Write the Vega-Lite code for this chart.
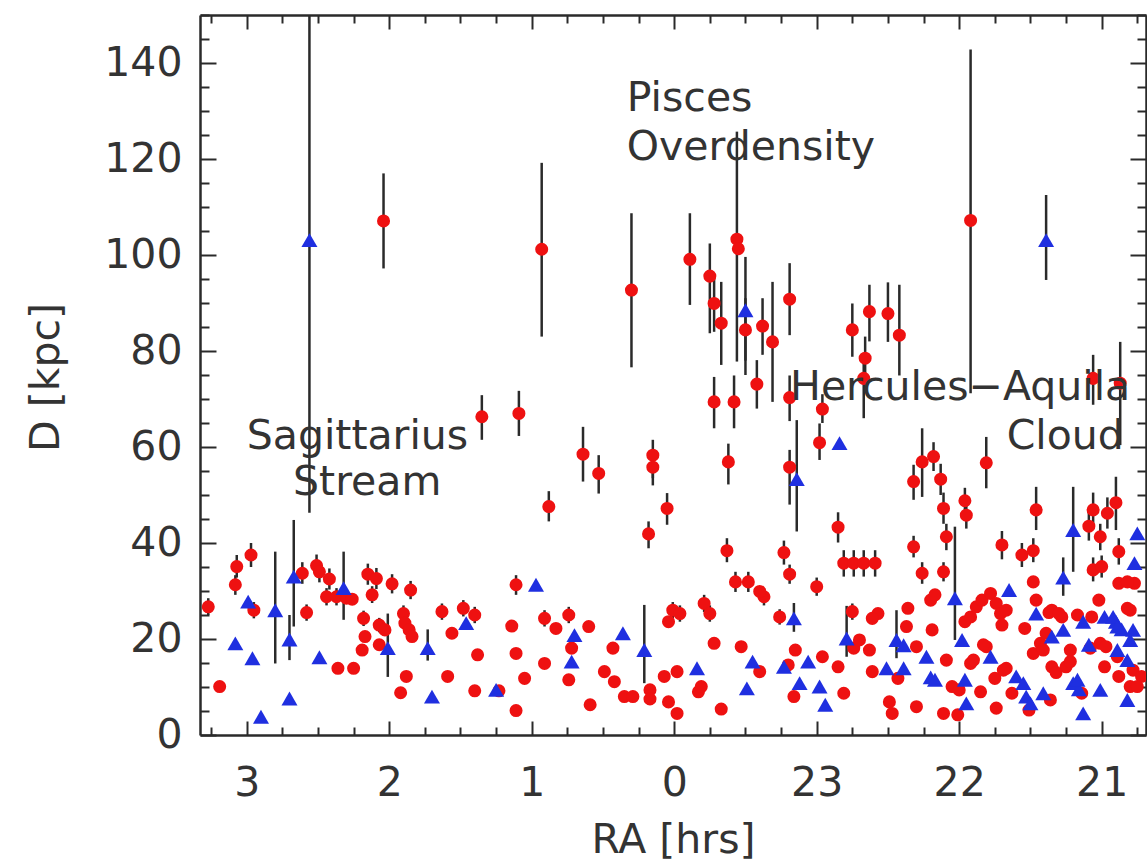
{
"$schema": "https://vega.github.io/schema/vega-lite/v6.json",
"width": 946, "height": 720,
"autosize": "none",
"padding": {"left": 200, "top": 15, "right": 1, "bottom": 131},
"background": "white",
"config": {"view": {"stroke": null},
 "axis": {"grid": false, "domainColor": "#2a2a2a", "domainWidth": 2.5, "tickColor": "#2a2a2a", "tickWidth": 2,
  "labelFont": "DejaVu Sans", "labelFontSize": 41, "labelColor": "#333", "titleFont": "DejaVu Sans", "titleFontSize": 41,
  "titleFontWeight": "normal", "titleColor": "#333", "labelOverlap": false, "labelFlush": false}},
"datasets": {
"stars": [
{"ra":2.56,"d":103.1,"lo":46.3,"hi":160,"type":"RRc"},
{"ra":2.04,"d":107.1,"lo":97.2,"hi":117.0,"type":"RRab"},
{"ra":0.93,"d":101.2,"lo":83.0,"hi":119.2,"type":"RRab"},
{"ra":0.30,"d":92.7,"lo":76.6,"hi":108.7,"type":"RRab"},
{"ra":-0.11,"d":99.1,"lo":89.6,"hi":108.7,"type":"RRab"},
{"ra":-0.25,"d":95.6,"lo":83.7,"hi":102.4,"type":"RRab"},
{"ra":-0.28,"d":89.9,"lo":84.0,"hi":96.0,"type":"RRab"},
{"ra":-0.44,"d":103.3,"lo":77.8,"hi":125.7,"type":"RRab"},
{"ra":-0.45,"d":101.3,"type":"RRab"},
{"ra":-0.50,"d":88.5,"lo":75.0,"hi":99.6,"type":"RRc"},
{"ra":-0.33,"d":85.8,"lo":77.1,"hi":94.4,"type":"RRab"},
{"ra":-0.50,"d":84.4,"lo":78.0,"hi":91.0,"type":"RRab"},
{"ra":-0.62,"d":85.2,"lo":79.2,"hi":91.0,"type":"RRab"},
{"ra":-0.69,"d":81.9,"lo":69.4,"hi":94.4,"type":"RRab"},
{"ra":-0.81,"d":90.8,"lo":83.3,"hi":98.3,"type":"RRab"},
{"ra":-0.58,"d":73.1,"lo":68.0,"hi":78.1,"type":"RRab"},
{"ra":-0.28,"d":69.4,"lo":63.9,"hi":74.6,"type":"RRab"},
{"ra":-0.42,"d":69.4,"lo":63.9,"hi":74.9,"type":"RRab"},
{"ra":-0.81,"d":70.3,"lo":65.4,"hi":74.9,"type":"RRab"},
{"ra":-1.04,"d":67.9,"lo":65.0,"hi":71.0,"type":"RRab"},
{"ra":-1.02,"d":60.9,"lo":57.3,"hi":64.9,"type":"RRab"},
{"ra":-1.16,"d":60.8,"type":"RRc"},
{"ra":-0.81,"d":55.8,"lo":48.0,"hi":59.4,"type":"RRab"},
{"ra":-0.86,"d":53.3,"lo":42.4,"hi":65.6,"type":"RRc"},
{"ra":0.64,"d":58.5,"lo":52.8,"hi":64.2,"type":"RRab"},
{"ra":0.53,"d":54.5,"lo":50.3,"hi":58.3,"type":"RRab"},
{"ra":0.15,"d":58.3,"lo":53.5,"hi":61.5,"type":"RRab"},
{"ra":0.15,"d":55.8,"lo":52.0,"hi":59.0,"type":"RRab"},
{"ra":-0.38,"d":56.9,"lo":52.2,"hi":60.7,"type":"RRab"},
{"ra":0.05,"d":47.2,"lo":43.8,"hi":50.4,"type":"RRab"},
{"ra":0.88,"d":47.6,"lo":44.5,"hi":50.8,"type":"RRab"},
{"ra":0.18,"d":41.9,"lo":38.9,"hi":44.5,"type":"RRab"},
{"ra":-0.37,"d":38.4,"lo":36.0,"hi":41.0,"type":"RRab"},
{"ra":-0.77,"d":38.0,"lo":35.5,"hi":40.5,"type":"RRab"},
{"ra":-0.81,"d":33.5,"lo":31.5,"hi":35.5,"type":"RRab"},
{"ra":-1.15,"d":43.3,"lo":40.1,"hi":46.4,"type":"RRab"},
{"ra":-1.19,"d":35.8,"lo":33.0,"hi":38.5,"type":"RRab"},
{"ra":-1.26,"d":35.8,"lo":33.0,"hi":38.5,"type":"RRab"},
{"ra":-1.33,"d":35.8,"lo":33.0,"hi":38.5,"type":"RRab"},
{"ra":-1.41,"d":35.8,"lo":33.0,"hi":38.5,"type":"RRab"},
{"ra":-1.68,"d":39.2,"lo":37.0,"hi":41.5,"type":"RRab"},
{"ra":-1.74,"d":56.9,"lo":49.6,"hi":63.9,"type":"RRab"},
{"ra":-1.82,"d":58.0,"lo":55.0,"hi":61.0,"type":"RRab"},
{"ra":-1.68,"d":52.8,"lo":49.0,"hi":56.3,"type":"RRab"},
{"ra":-1.87,"d":53.3,"lo":50.0,"hi":56.5,"type":"RRab"},
{"ra":-1.89,"d":47.2,"lo":44.0,"hi":50.5,"type":"RRab"},
{"ra":-1.91,"d":41.3,"lo":38.5,"hi":44.0,"type":"RRab"},
{"ra":-1.74,"d":33.7,"lo":31.5,"hi":36.0,"type":"RRab"},
{"ra":-1.89,"d":34.0,"lo":32.0,"hi":36.0,"type":"RRab"},
{"ra":-1.25,"d":84.4,"lo":78.8,"hi":89.9,"type":"RRab"},
{"ra":-1.37,"d":88.2,"lo":82.0,"hi":93.8,"type":"RRab"},
{"ra":-1.50,"d":87.8,"lo":81.9,"hi":94.3,"type":"RRab"},
{"ra":-1.58,"d":83.3,"lo":74.9,"hi":93.8,"type":"RRab"},
{"ra":-1.34,"d":78.5,"lo":74.0,"hi":83.0,"type":"RRab"},
{"ra":-1.33,"d":74.3,"lo":66.0,"hi":79.0,"type":"RRab"},
{"ra":-2.08,"d":107.2,"lo":71.2,"hi":142.8,"type":"RRab"},
{"ra":-2.61,"d":103.1,"lo":94.8,"hi":112.5,"type":"RRc"},
{"ra":-2.94,"d":74.3,"lo":68.8,"hi":79.2,"type":"RRab"},
{"ra":-3.13,"d":73.3,"lo":60.4,"hi":81.9,"type":"RRab"},
{"ra":-2.04,"d":48.8,"lo":46.0,"hi":51.5,"type":"RRab"},
{"ra":-2.05,"d":45.8,"lo":43.0,"hi":48.5,"type":"RRab"},
{"ra":-2.19,"d":56.7,"lo":51.4,"hi":62.1,"type":"RRab"},
{"ra":-2.30,"d":39.6,"lo":36.6,"hi":42.5,"type":"RRab"},
{"ra":-2.44,"d":37.5,"lo":35.0,"hi":40.0,"type":"RRab"},
{"ra":-2.52,"d":38.4,"lo":36.0,"hi":41.0,"type":"RRab"},
{"ra":-2.54,"d":46.9,"lo":42.7,"hi":51.7,"type":"RRab"},
{"ra":-2.80,"d":42.7,"lo":34.0,"hi":51.7,"type":"RRc"},
{"ra":-2.94,"d":46.9,"lo":43.5,"hi":50.5,"type":"RRab"},
{"ra":-2.91,"d":43.5,"lo":40.5,"hi":46.5,"type":"RRab"},
{"ra":-2.99,"d":41.3,"lo":38.5,"hi":44.0,"type":"RRab"},
{"ra":-3.04,"d":46.2,"lo":43.0,"hi":49.5,"type":"RRab"},
{"ra":-3.10,"d":48.4,"lo":42.7,"hi":53.8,"type":"RRab"},
{"ra":-3.12,"d":38.2,"lo":35.5,"hi":41.0,"type":"RRab"},
{"ra":-3.25,"d":42.0,"type":"RRc"},
{"ra":-3.23,"d":35.8,"type":"RRc"},
{"ra":-2.73,"d":32.8,"lo":29.0,"hi":37.0,"type":"RRc"},
{"ra":-2.94,"d":34.4,"lo":32.0,"hi":37.0,"type":"RRab"},
{"ra":-3.00,"d":35.1,"lo":32.8,"hi":37.4,"type":"RRab"},
{"ra":1.35,"d":66.3,"lo":61.5,"hi":70.8,"type":"RRab"},
{"ra":1.09,"d":67.0,"lo":62.3,"hi":71.7,"type":"RRab"},
{"ra":3.07,"d":35.1,"lo":32.8,"hi":37.5,"type":"RRab"},
{"ra":2.97,"d":37.5,"lo":35.0,"hi":40.0,"type":"RRab"},
{"ra":2.67,"d":33.0,"lo":22.6,"hi":44.8,"type":"RRc"},
{"ra":2.61,"d":33.7,"lo":31.5,"hi":36.0,"type":"RRab"},
{"ra":2.51,"d":35.3,"lo":33.0,"hi":37.6,"type":"RRab"},
{"ra":2.49,"d":34.0,"lo":31.8,"hi":36.2,"type":"RRab"},
{"ra":2.42,"d":32.5,"lo":30.3,"hi":34.7,"type":"RRab"},
{"ra":2.15,"d":33.5,"lo":31.3,"hi":35.7,"type":"RRab"},
{"ra":2.09,"d":32.6,"lo":30.4,"hi":34.8,"type":"RRab"},
{"ra":1.98,"d":31.5,"lo":29.5,"hi":33.5,"type":"RRab"},
{"ra":3.08,"d":31.3,"lo":29.2,"hi":33.3,"type":"RRab"},
{"ra":3.27,"d":26.7,"lo":25.0,"hi":28.5,"type":"RRab"},
{"ra":2.99,"d":27.8,"type":"RRc"},
{"ra":2.95,"d":26.0,"lo":24.3,"hi":27.7,"type":"RRab"},
{"ra":3.08,"d":19.1,"type":"RRc"},
{"ra":2.96,"d":16.0,"type":"RRc"},
{"ra":3.19,"d":10.1,"type":"RRab"},
{"ra":2.80,"d":26.0,"lo":14.9,"hi":38.2,"type":"RRc"},
{"ra":2.70,"d":19.9,"lo":15.6,"hi":25.0,"type":"RRc"},
{"ra":2.70,"d":7.6,"type":"RRc"},
{"ra":2.90,"d":3.8,"type":"RRc"},
{"ra":2.58,"d":25.5,"lo":23.8,"hi":27.2,"type":"RRab"},
{"ra":2.44,"d":28.8,"lo":27.0,"hi":30.6,"type":"RRab"},
{"ra":2.37,"d":28.8,"lo":27.0,"hi":30.6,"type":"RRab"},
{"ra":2.30,"d":28.5,"type":"RRab"},
{"ra":2.26,"d":28.3,"type":"RRab"},
{"ra":2.32,"d":30.6,"lo":24.0,"hi":38.2,"type":"RRc"},
{"ra":2.36,"d":13.9,"type":"RRab"},
{"ra":2.25,"d":13.9,"type":"RRab"},
{"ra":2.49,"d":16.2,"type":"RRc"},
{"ra":2.12,"d":29.2,"lo":27.5,"hi":31.0,"type":"RRab"},
{"ra":1.85,"d":30.2,"lo":28.3,"hi":32.1,"type":"RRab"},
{"ra":2.18,"d":24.3,"lo":22.7,"hi":25.9,"type":"RRab"},
{"ra":2.17,"d":20.5,"type":"RRab"},
{"ra":2.19,"d":17.7,"type":"RRab"},
{"ra":2.07,"d":22.9,"lo":21.4,"hi":24.4,"type":"RRab"},
{"ra":2.03,"d":21.9,"type":"RRab"},
{"ra":2.07,"d":18.8,"type":"RRab"},
{"ra":2.01,"d":18.1,"lo":12.1,"hi":25.3,"type":"RRc"},
{"ra":1.90,"d":25.3,"lo":23.6,"hi":27.0,"type":"RRab"},
{"ra":1.89,"d":23.3,"type":"RRab"},
{"ra":1.86,"d":21.9,"type":"RRab"},
{"ra":1.84,"d":20.5,"type":"RRab"},
{"ra":1.88,"d":12.2,"type":"RRab"},
{"ra":1.92,"d":8.8,"type":"RRab"},
{"ra":1.73,"d":18.1,"lo":15.5,"hi":22.0,"type":"RRc"},
{"ra":1.70,"d":8.0,"type":"RRc"},
{"ra":1.63,"d":25.7,"lo":24.0,"hi":27.4,"type":"RRab"},
{"ra":1.56,"d":21.2,"type":"RRab"},
{"ra":1.59,"d":12.2,"type":"RRab"},
{"ra":1.48,"d":26.4,"lo":24.7,"hi":28.1,"type":"RRab"},
{"ra":1.40,"d":25.0,"lo":23.3,"hi":26.7,"type":"RRab"},
{"ra":1.46,"d":23.3,"type":"RRc"},
{"ra":1.38,"d":16.7,"type":"RRab"},
{"ra":1.40,"d":9.2,"type":"RRab"},
{"ra":1.25,"d":9.4,"type":"RRc"},
{"ra":1.23,"d":9.2,"type":"RRab"},
{"ra":1.11,"d":31.3,"lo":29.2,"hi":33.3,"type":"RRab"},
{"ra":0.97,"d":31.3,"type":"RRc"},
{"ra":1.14,"d":22.7,"type":"RRab"},
{"ra":1.11,"d":17.0,"type":"RRab"},
{"ra":1.05,"d":11.8,"type":"RRab"},
{"ra":1.11,"d":5.1,"type":"RRab"},
{"ra":0.91,"d":24.3,"lo":22.6,"hi":26.0,"type":"RRab"},
{"ra":0.91,"d":14.9,"type":"RRab"},
{"ra":0.74,"d":25.0,"lo":23.3,"hi":26.7,"type":"RRab"},
{"ra":0.83,"d":22.2,"type":"RRab"},
{"ra":0.70,"d":20.8,"type":"RRc"},
{"ra":0.72,"d":18.1,"type":"RRab"},
{"ra":0.72,"d":15.3,"type":"RRc"},
{"ra":0.74,"d":11.5,"type":"RRab"},
{"ra":0.60,"d":22.6,"type":"RRab"},
{"ra":0.59,"d":6.3,"type":"RRab"},
{"ra":0.36,"d":21.2,"type":"RRc"},
{"ra":0.43,"d":18.1,"type":"RRab"},
{"ra":0.49,"d":13.2,"type":"RRab"},
{"ra":0.42,"d":11.1,"type":"RRab"},
{"ra":0.35,"d":8.0,"type":"RRab"},
{"ra":0.29,"d":8.0,"type":"RRab"},
{"ra":0.21,"d":17.7,"lo":10.8,"hi":27.1,"type":"RRc"},
{"ra":0.17,"d":9.4,"type":"RRab"},
{"ra":0.17,"d":7.5,"type":"RRab"},
{"ra":0.04,"d":23.6,"type":"RRab"},
{"ra":0.01,"d":26.0,"lo":24.3,"hi":27.7,"type":"RRab"},
{"ra":-0.04,"d":25.3,"lo":23.6,"hi":27.0,"type":"RRab"},
{"ra":0.07,"d":12.2,"type":"RRab"},
{"ra":-0.02,"d":13.2,"type":"RRab"},
{"ra":0.04,"d":6.9,"type":"RRab"},
{"ra":-0.02,"d":4.5,"type":"RRab"},
{"ra":-0.16,"d":13.9,"type":"RRc"},
{"ra":-0.17,"d":9.0,"type":"RRab"},
{"ra":-0.19,"d":10.1,"type":"RRab"},
{"ra":-0.21,"d":27.4,"lo":25.6,"hi":29.2,"type":"RRab"},
{"ra":-0.25,"d":25.3,"lo":23.6,"hi":27.0,"type":"RRab"},
{"ra":-0.28,"d":19.1,"type":"RRab"},
{"ra":-0.33,"d":5.4,"type":"RRab"},
{"ra":-0.43,"d":31.9,"lo":29.8,"hi":34.0,"type":"RRab"},
{"ra":-0.52,"d":31.9,"lo":29.8,"hi":34.0,"type":"RRab"},
{"ra":-0.47,"d":18.4,"type":"RRab"},
{"ra":-0.63,"d":28.8,"lo":27.0,"hi":30.6,"type":"RRab"},
{"ra":-0.60,"d":29.9,"type":"RRab"},
{"ra":-0.55,"d":15.3,"type":"RRc"},
{"ra":-0.60,"d":13.2,"type":"RRab"},
{"ra":-0.51,"d":9.7,"type":"RRc"},
{"ra":-0.74,"d":24.6,"lo":23.0,"hi":26.2,"type":"RRab"},
{"ra":-0.84,"d":24.3,"lo":21.5,"hi":27.5,"type":"RRc"},
{"ra":-0.85,"d":17.7,"type":"RRab"},
{"ra":-0.80,"d":14.6,"type":"RRab"},
{"ra":-0.77,"d":14.2,"type":"RRc"},
{"ra":-0.88,"d":10.8,"type":"RRc"},
{"ra":-0.94,"d":15.3,"type":"RRc"},
{"ra":-0.84,"d":8.0,"type":"RRab"},
{"ra":-1.00,"d":30.9,"lo":29.0,"hi":32.8,"type":"RRab"},
{"ra":-1.04,"d":16.3,"type":"RRab"},
{"ra":-1.02,"d":10.1,"type":"RRc"},
{"ra":-1.06,"d":6.3,"type":"RRc"},
{"ra":-1.15,"d":14.2,"type":"RRab"},
{"ra":-1.19,"d":8.7,"type":"RRab"},
{"ra":-1.25,"d":25.7,"lo":24.0,"hi":27.4,"type":"RRab"},
{"ra":-1.21,"d":20.1,"lo":16.3,"hi":26.9,"type":"RRc"},
{"ra":-1.26,"d":18.1,"type":"RRab"},
{"ra":-1.30,"d":19.8,"type":"RRab"},
{"ra":-1.37,"d":17.7,"type":"RRab"},
{"ra":-1.43,"d":25.3,"type":"RRab"},
{"ra":-1.39,"d":24.3,"type":"RRab"},
{"ra":-1.39,"d":13.2,"type":"RRab"},
{"ra":-1.51,"d":6.9,"type":"RRab"},
{"ra":-1.53,"d":4.5,"type":"RRab"},
{"ra":-1.49,"d":13.9,"type":"RRc"},
{"ra":-1.56,"d":19.8,"lo":16.0,"hi":26.0,"type":"RRc"},
{"ra":-1.61,"d":18.7,"type":"RRc"},
{"ra":-1.64,"d":26.4,"type":"RRab"},
{"ra":-1.63,"d":22.6,"type":"RRab"},
{"ra":-1.61,"d":13.9,"type":"RRc"},
{"ra":-1.57,"d":11.8,"type":"RRab"},
{"ra":-1.70,"d":18.4,"type":"RRab"},
{"ra":-1.70,"d":5.9,"type":"RRab"},
{"ra":-1.77,"d":16.3,"type":"RRc"},
{"ra":-1.80,"d":12.0,"type":"RRc"},
{"ra":-1.83,"d":11.5,"type":"RRc"},
{"ra":-1.81,"d":21.9,"type":"RRab"},
{"ra":-1.80,"d":28.1,"type":"RRab"},
{"ra":-1.83,"d":29.2,"type":"RRab"},
{"ra":-1.89,"d":4.5,"type":"RRab"},
{"ra":-1.97,"d":28.5,"lo":19.8,"hi":43.4,"type":"RRc"},
{"ra":-1.91,"d":15.6,"type":"RRab"},
{"ra":-1.95,"d":10.1,"type":"RRab"},
{"ra":-1.99,"d":4.2,"type":"RRab"},
{"ra":-2.02,"d":19.8,"type":"RRc"},
{"ra":-2.04,"d":11.5,"type":"RRc"},
{"ra":-2.05,"d":6.6,"type":"RRc"},
{"ra":-2.00,"d":9.4,"type":"RRab"},
{"ra":-2.15,"d":9.0,"type":"RRab"},
{"ra":-2.04,"d":23.6,"type":"RRab"},
{"ra":-2.08,"d":24.6,"type":"RRab"},
{"ra":-2.12,"d":26.7,"type":"RRab"},
{"ra":-2.16,"d":28.1,"type":"RRab"},
{"ra":-2.22,"d":29.5,"type":"RRab"},
{"ra":-2.26,"d":27.4,"type":"RRab"},
{"ra":-2.29,"d":25.3,"type":"RRab"},
{"ra":-2.30,"d":22.9,"type":"RRab"},
{"ra":-2.33,"d":26.0,"type":"RRab"},
{"ra":-2.08,"d":14.9,"type":"RRab"},
{"ra":-2.19,"d":18.4,"type":"RRab"},
{"ra":-2.22,"d":16.3,"type":"RRc"},
{"ra":-2.25,"d":11.8,"type":"RRab"},
{"ra":-2.26,"d":5.6,"type":"RRab"},
{"ra":-2.35,"d":30.2,"type":"RRc"},
{"ra":-2.33,"d":13.9,"type":"RRab"},
{"ra":-2.37,"d":8.7,"type":"RRab"},
{"ra":-2.40,"d":12.2,"type":"RRc"},
{"ra":-2.45,"d":10.8,"type":"RRc"},
{"ra":-2.47,"d":8.0,"type":"RRc"},
{"ra":-2.50,"d":6.6,"type":"RRc"},
{"ra":-2.46,"d":22.2,"type":"RRab"},
{"ra":-2.52,"d":31.9,"type":"RRab"},
{"ra":-2.54,"d":25.3,"type":"RRc"},
{"ra":-2.54,"d":28.1,"type":"RRab"},
{"ra":-2.52,"d":17.0,"type":"RRab"},
{"ra":-2.57,"d":19.1,"type":"RRab"},
{"ra":-2.49,"d":5.2,"type":"RRab"},
{"ra":-2.59,"d":8.7,"type":"RRc"},
{"ra":-2.61,"d":21.2,"type":"RRab"},
{"ra":-2.65,"d":14.2,"type":"RRab"},
{"ra":-2.65,"d":20.5,"type":"RRc"},
{"ra":-2.73,"d":21.9,"type":"RRc"},
{"ra":-2.65,"d":26.0,"type":"RRab"},
{"ra":-2.72,"d":24.6,"type":"RRab"},
{"ra":-2.78,"d":17.7,"type":"RRab"},
{"ra":-2.75,"d":14.2,"type":"RRab"},
{"ra":-2.68,"d":13.0,"type":"RRab"},
{"ra":-2.80,"d":10.8,"type":"RRc"},
{"ra":-2.84,"d":9.5,"type":"RRc"},
{"ra":-2.87,"d":4.5,"type":"RRc"},
{"ra":-2.86,"d":8.7,"type":"RRab"},
{"ra":-2.91,"d":18.8,"type":"RRc"},
{"ra":-2.93,"d":24.6,"type":"RRab"},
{"ra":-2.98,"d":28.1,"type":"RRab"},
{"ra":-2.99,"d":19.1,"type":"RRab"},
{"ra":-3.03,"d":18.4,"type":"RRab"},
{"ra":-2.99,"d":9.4,"type":"RRc"},
{"ra":-3.02,"d":14.2,"type":"RRab"},
{"ra":-3.02,"d":24.6,"type":"RRc"},
{"ra":-3.10,"d":23.6,"type":"RRc"},
{"ra":-3.14,"d":22.0,"type":"RRc"},
{"ra":-3.11,"d":17.7,"type":"RRc"},
{"ra":-3.12,"d":31.6,"type":"RRab"},
{"ra":-3.23,"d":31.6,"type":"RRab"},
{"ra":-3.20,"d":26.0,"type":"RRab"},
{"ra":-3.22,"d":21.9,"type":"RRc"},
{"ra":-3.20,"d":19.8,"type":"RRc"},
{"ra":-3.18,"d":15.6,"type":"RRc"},
{"ra":-3.22,"d":13.5,"type":"RRab"},
{"ra":-3.18,"d":7.3,"type":"RRc"},
{"ra":-3.28,"d":12.2,"type":"RRab"},
{"ra":-3.12,"d":12.2,"type":"RRab"},
{"ra":-3.20,"d":10.1,"type":"RRab"},
{"ra":-3.18,"d":31.9,"type":"RRab"},
{"ra":-2.63,"d":25.5,"type":"RRab"},
{"ra":-2.70,"d":25.3,"type":"RRab"},
{"ra":-2.83,"d":25.0,"type":"RRab"},
{"ra":-2.87,"d":23.6,"type":"RRc"},
{"ra":-3.08,"d":24.6,"type":"RRc"},
{"ra":-3.11,"d":22.6,"type":"RRc"},
{"ra":-3.18,"d":26.4,"type":"RRab"},
{"ra":-2.17,"d":18.8,"type":"RRab"},
{"ra":-2.10,"d":15.6,"type":"RRab"},
{"ra":-2.31,"d":13.5,"type":"RRab"},
{"ra":-2.64,"d":7.3,"type":"RRab"},
{"ra":-2.59,"d":17.7,"type":"RRab"},
{"ra":-2.78,"d":15.3,"type":"RRab"},
{"ra":-2.83,"d":11.5,"type":"RRc"},
{"ra":-2.92,"d":18.1,"type":"RRab"},
{"ra":-3.11,"d":16.3,"type":"RRab"},
{"ra":-3.25,"d":10.1,"type":"RRab"}
],
"notes": [
{"ra":0.333,"d":129.9,"label":"Pisces"},
{"ra":0.333,"d":119.8,"label":"Overdensity"},
{"ra":3.0,"d":59.5,"label":"Sagittarius"},
{"ra":2.675,"d":50.0,"label":"Stream"},
{"ra":-0.813,"d":69.7,"label":"Hercules−Aquila"},
{"ra":-2.333,"d":59.5,"label":"Cloud"}
],
"frame": [{"ra":0,"d":0}]
},
"layer": [
{"data": {"name": "stars"}, "transform": [{"filter": "isValid(datum.lo)"}],
 "mark": {"type": "rule", "color": "#2a2a2a", "strokeWidth": 2.5, "clip": true},
 "encoding": {
  "x": {"field": "ra", "type": "quantitative", "scale": {"domain": [-3.311, 3.328], "reverse": true, "nice": false, "zero": false}, "axis": null},
  "y": {"field": "lo", "type": "quantitative", "scale": {"domain": [0, 150], "nice": false, "zero": false}, "axis": null},
  "y2": {"field": "hi"}}},
{"data": {"name": "stars"}, "transform": [{"filter": "datum.type === 'RRab'"}],
 "mark": {"type": "point", "shape": "circle", "filled": true, "color": "#ee1111", "opacity": 1, "size": 170, "clip": true},
 "encoding": {
  "x": {"field": "ra", "type": "quantitative", "scale": {"domain": [-3.311, 3.328], "reverse": true, "nice": false, "zero": false},
   "axis": {"orient": "bottom", "values": [-3.25,-3,-2.75,-2.5,-2.25,-2,-1.75,-1.5,-1.25,-1,-0.75,-0.5,-0.25,0,0.25,0.5,0.75,1,1.25,1.5,1.75,2,2.25,2.5,2.75,3,3.25],
    "labelExpr": "abs(datum.value - round(datum.value)) < 0.01 ? format(datum.value < 0 ? datum.value + 24 : datum.value, 'd') : ''",
    "tickSize": {"condition": {"test": "abs(datum.value - round(datum.value)) < 0.01", "value": -14}, "value": -8},
    "labelPadding": 42, "title": "RA [hrs]", "titleY": 117, "titleBaseline": "alphabetic"}},
  "y": {"field": "d", "type": "quantitative", "scale": {"domain": [0, 150], "nice": false, "zero": false},
   "axis": {"orient": "left", "values": [0,5,10,15,20,25,30,35,40,45,50,55,60,65,70,75,80,85,90,95,100,105,110,115,120,125,130,135,140,145,150],
    "labelExpr": "datum.value % 20 === 0 ? datum.label : ''",
    "tickSize": {"condition": {"test": "datum.value % 20 === 0", "value": -16}, "value": -9},
    "labelPadding": 34, "title": "D [kpc]", "titleX": -154, "titleY": 362, "titleBaseline": "middle", "titleAngle": -90}}}},
{"data": {"name": "stars"}, "transform": [{"filter": "datum.type === 'RRc'"}],
 "mark": {"type": "point", "shape": "triangle-up", "filled": true, "color": "#1f2fe0", "opacity": 1, "size": 256, "clip": true},
 "encoding": {
  "x": {"field": "ra", "type": "quantitative", "scale": {"domain": [-3.311, 3.328], "reverse": true, "nice": false, "zero": false}, "axis": null},
  "y": {"field": "d", "type": "quantitative", "scale": {"domain": [0, 150], "nice": false, "zero": false}, "axis": null}}},
{"data": {"name": "notes"},
 "mark": {"type": "text", "align": "left", "baseline": "alphabetic", "font": "DejaVu Sans", "fontSize": 41, "color": "#333"},
 "encoding": {
  "x": {"field": "ra", "type": "quantitative", "scale": {"domain": [-3.311, 3.328], "reverse": true, "nice": false, "zero": false}, "axis": null},
  "y": {"field": "d", "type": "quantitative", "scale": {"domain": [0, 150], "nice": false, "zero": false}, "axis": null},
  "text": {"field": "label"}}},
{"data": {"name": "frame"},
 "mark": {"type": "point", "opacity": 0},
 "encoding": {
  "x": {"field": "ra", "type": "quantitative", "scale": {"domain": [-3.311, 3.328], "reverse": true, "nice": false, "zero": false},
   "axis": {"orient": "top", "values": [-3.25,-3,-2.75,-2.5,-2.25,-2,-1.75,-1.5,-1.25,-1,-0.75,-0.5,-0.25,0,0.25,0.5,0.75,1,1.25,1.5,1.75,2,2.25,2.5,2.75,3,3.25],
    "labels": false, "title": null,
    "tickSize": {"condition": {"test": "abs(datum.value - round(datum.value)) < 0.01", "value": -14}, "value": -8}}},
  "y": {"field": "d", "type": "quantitative", "scale": {"domain": [0, 150], "nice": false, "zero": false},
   "axis": {"orient": "right", "values": [0,5,10,15,20,25,30,35,40,45,50,55,60,65,70,75,80,85,90,95,100,105,110,115,120,125,130,135,140,145,150],
    "labels": false, "title": null,
    "tickSize": {"condition": {"test": "datum.value % 20 === 0", "value": -16}, "value": -9}}}}}
],
"resolve": {"axis": {"x": "independent", "y": "independent"}}
}
